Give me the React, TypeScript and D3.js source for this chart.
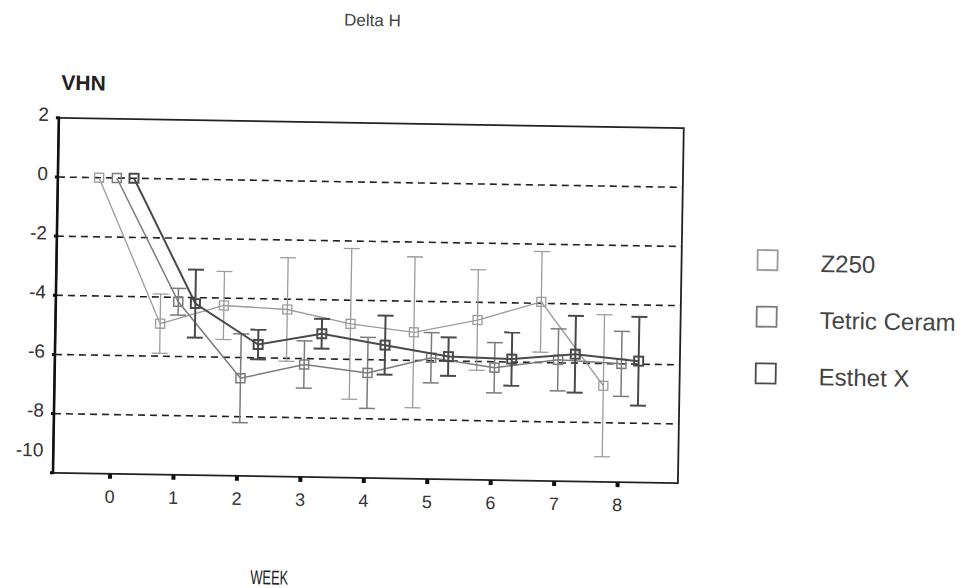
import { useEffect, useRef } from "react";
import * as d3 from "d3";

// Week numbers on the x axis
const weeks = [0, 1, 2, 3, 4, 5, 6, 7, 8];

// Series names (legend order)
const seriesNames = ["Z250", "Tetric Ceram", "Esthet X"];

// Mean delta VHN per week
const z250Mean = [0, -4.9, -4.25, -4.35, -4.8, -5.05, -4.6, -3.95, -6.75];
const tetricMean = [0, -4.15, -6.7, -6.2, -6.45, -5.9, -6.2, -5.9, -6.0];
const esthetMean = [0, -4.2, -5.55, -5.15, -5.5, -5.85, -5.9, -5.7, -5.9];

// Error bar half-lengths per week
const z250Err = [0, 1.0, 1.15, 1.75, 2.55, 2.55, 1.7, 1.7, 2.4];
const tetricErr = [0, 0.45, 1.5, 0.8, 1.2, 0.85, 0.85, 1.05, 1.1];
const esthetErr = [0, 1.15, 0.5, 0.5, 1.0, 0.65, 0.9, 1.3, 1.5];

// Y axis ticks and grid lines
const yTicks = [2, 0, -2, -4, -6, -8, -10];
const gridValues = [0, -2, -4, -6, -8];

const W = 980;
const H = 588;

export default function App() {
    const svgRef = useRef<SVGSVGElement | null>(null);

    useEffect(() => {
        if (!svgRef.current) return;
        d3.select(svgRef.current).selectAll("*").remove();

        const font = "'Liberation Sans', Arial, sans-serif";
        const series = [
            { name: seriesNames[0], mean: z250Mean, err: z250Err, color: "#9c9c9c", width: 1.3, shift: -0.25 },
            { name: seriesNames[1], mean: tetricMean, err: tetricErr, color: "#7b7b7b", width: 1.5, shift: 0.03 },
            { name: seriesNames[2], mean: esthetMean, err: esthetErr, color: "#4a4a4a", width: 2, shift: 0.3 },
        ];

        const svg = d3
            .select(svgRef.current)
            .attr("width", W)
            .attr("height", H);

        svg.append("rect").attr("width", W).attr("height", H).attr("fill", "#fff");

        // scanned page is slightly tilted
        const g = svg.append("g").attr("transform", `rotate(0.95, 490, 294)`);

        const x = d3.scaleLinear().domain([-0.9, 8.95]).range([56, 681]);
        const y = d3.scaleLinear().domain([-10, 2]).range([480, 125]);

        // title
        g.append("text")
            .attr("x", 368)
            .attr("y", 28)
            .attr("text-anchor", "middle")
            .attr("font-family", font)
            .attr("font-size", 17)
            .attr("fill", "#444")
            .text("Delta H");

        g.append("text")
            .attr("x", 58)
            .attr("y", 97)
            .attr("font-family", font)
            .attr("font-size", 21)
            .attr("font-weight", "bold")
            .attr("fill", "#222")
            .text("VHN");

        // dashed grid lines
        g.selectAll(".grid")
            .data(gridValues)
            .enter()
            .append("line")
            .attr("x1", x.range()[0])
            .attr("x2", x.range()[1])
            .attr("y1", (d) => y(d))
            .attr("y2", (d) => y(d))
            .attr("stroke", "#222")
            .attr("stroke-width", 1.6)
            .attr("stroke-dasharray", "7,5");

        // frame
        g.append("rect")
            .attr("x", x.range()[0])
            .attr("y", y.range()[1])
            .attr("width", x.range()[1] - x.range()[0])
            .attr("height", y.range()[0] - y.range()[1])
            .attr("fill", "none")
            .attr("stroke", "#222")
            .attr("stroke-width", 1.8);
        g.append("line")
            .attr("x1", x.range()[0])
            .attr("x2", x.range()[0])
            .attr("y1", y.range()[1])
            .attr("y2", y.range()[0])
            .attr("stroke", "#111")
            .attr("stroke-width", 2.6);

        // y ticks + labels
        g.selectAll(".ytick")
            .data(yTicks)
            .enter()
            .append("line")
            .attr("x1", x.range()[0] - 3)
            .attr("x2", x.range()[0] + 1)
            .attr("y1", (d) => y(d))
            .attr("y2", (d) => y(d))
            .attr("stroke", "#111")
            .attr("stroke-width", 3);

        g.selectAll(".ylab")
            .data(yTicks)
            .enter()
            .append("text")
            .attr("x", 46)
            .attr("y", (d) => y(d) + (d === -10 ? -23 : -3.5))
            .attr("dy", "0.36em")
            .attr("text-anchor", "end")
            .attr("font-family", font)
            .attr("font-size", 19)
            .attr("fill", "#333")
            .text((d) => `${d}`);

        // x ticks + labels
        g.selectAll(".xtick")
            .data(weeks)
            .enter()
            .append("line")
            .attr("x1", (d) => x(d))
            .attr("x2", (d) => x(d))
            .attr("y1", y.range()[0])
            .attr("y2", y.range()[0] + 5)
            .attr("stroke", "#111")
            .attr("stroke-width", 4);

        g.selectAll(".xlab")
            .data(weeks)
            .enter()
            .append("text")
            .attr("x", (d) => x(d))
            .attr("y", y.range()[0] + 29)
            .attr("text-anchor", "middle")
            .attr("font-family", font)
            .attr("font-size", 18)
            .attr("fill", "#333")
            .text((d) => `${d}`);

        g.append("text")
            .attr("x", 274)
            .attr("y", 588)
            .attr("text-anchor", "middle")
            .attr("font-family", font)
            .attr("font-size", 20)
            .attr("textLength", 38)
            .attr("lengthAdjust", "spacingAndGlyphs")
            .attr("fill", "#222")
            .text("WEEK");

        // series: lines, error bars, square markers
        const line = d3
            .line<[number, number]>()
            .x((d) => x(d[0]))
            .y((d) => y(d[1]));

        series.forEach((s) => {
            const pts: [number, number][] = weeks.map((w, i) => [w + s.shift, s.mean[i]]);
            const sg = g.append("g");

            sg.append("path")
                .attr("d", line(pts))
                .attr("fill", "none")
                .attr("stroke", s.color)
                .attr("stroke-width", s.width);

            const bars = pts.filter((_, i) => s.err[i] > 0);
            const errs = s.err.filter((e) => e > 0);
            bars.forEach((p, i) => {
                const px = x(p[0]);
                const top = y(p[1] + errs[i]);
                const bot = y(p[1] - errs[i]);
                sg.append("line")
                    .attr("x1", px).attr("x2", px)
                    .attr("y1", top).attr("y2", bot)
                    .attr("stroke", s.color).attr("stroke-width", s.width);
                [top, bot].forEach((yy) => {
                    sg.append("line")
                        .attr("x1", px - 8).attr("x2", px + 8)
                        .attr("y1", yy).attr("y2", yy)
                        .attr("stroke", s.color).attr("stroke-width", s.width);
                });
            });

            sg.selectAll("rect")
                .data(pts)
                .enter()
                .append("rect")
                .attr("x", (d) => x(d[0]) - 4.5)
                .attr("y", (d) => y(d[1]) - 4.5)
                .attr("width", 9)
                .attr("height", 9)
                .attr("fill", "none")
                .attr("stroke", s.color)
                .attr("stroke-width", s.width);
        });

        // legend
        const legend = g
            .selectAll(".legend")
            .data(series)
            .enter()
            .append("g")
            .attr("transform", (_, i) => `translate(767,${255.5 + i * 56.7})`);

        legend
            .append("rect")
            .attr("x", -10)
            .attr("y", -10)
            .attr("width", 20)
            .attr("height", 20)
            .attr("fill", "none")
            .attr("stroke", (d) => d.color)
            .attr("stroke-width", 1.8);

        legend
            .append("text")
            .attr("x", 53)
            .attr("y", 11)
            .attr("font-family", font)
            .attr("font-size", 24)
            .attr("fill", "#444")
            .text((d) => d.name);
    }, []);

    return (
        <svg
            ref={svgRef}
            style={{ position: "absolute", left: 0, top: 0, display: "block" }}
        />
    );
}
